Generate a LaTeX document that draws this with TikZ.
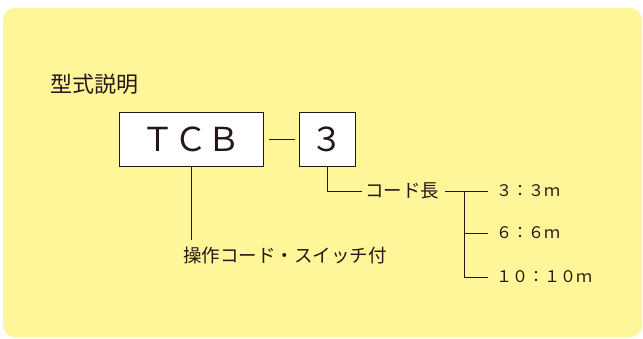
\documentclass[tikz,border=0pt]{standalone}
\usepackage{fontspec}
\newfontfamily\cjk{Noto Sans CJK JP}
\definecolor{panel}{HTML}{FFF599}
\definecolor{ink}{HTML}{231815}
\begin{document}
\begin{tikzpicture}[x=1pt,y=-1pt,
    every node/.style={font=\cjk, text=ink, inner sep=0pt},
    codebox/.style={draw=ink, fill=white, line width=.8pt, minimum height=54pt, anchor=north west},
    lead/.style={draw=ink, line width=.7pt}]
    \useasboundingbox (0,0) rectangle (643,338);
    \fill[panel, rounded corners=12pt] (3,8) rectangle (642,337);
    %% heading and code boxes
    \node[anchor=west, font=\cjk\fontsize{22}{22}\selectfont] (title) at (50,84) {型式説明};
    \node[codebox, minimum width=144pt, font=\cjk\fontsize{33}{33}\selectfont] (tcb) at (119,112) {ＴＣＢ};
    \node[codebox, minimum width=56pt, font=\cjk\fontsize{33}{33}\selectfont] (num) at (299,112) {３};
    \draw[lead, line width=1.8pt] ([xshift=5pt]tcb.east) -- ([xshift=-4pt]num.west);
    %% labels
    \node[anchor=west, font=\cjk\fontsize{18.5}{18.5}\selectfont] (op) at (183,255) {操作コード・スイッチ付};
    \node[anchor=west, font=\cjk\fontsize{18.5}{18.5}\selectfont] (len) at (365,191) {コード長};
    \node[anchor=west, font=\cjk\fontsize{16}{16}\selectfont] (o3) at (496,191) {３：３ｍ};
    \node[anchor=west, font=\cjk\fontsize{16}{16}\selectfont] (o6) at (496,233) {６：６ｍ};
    \node[anchor=west, font=\cjk\fontsize{16}{16}\selectfont] (o10) at (496,277) {１０：１０ｍ};
    \coordinate (fork) at (464,191);
    %% leader lines
    \draw[lead] (tcb.south) -- ([yshift=6pt]tcb.south |- op.north);
    \draw[lead] (num.south) |- ([xshift=-3pt]len.west);
    \draw[lead] ([xshift=6pt]len.east) -- ([xshift=-8pt]o3.west);
    \draw[lead] (fork) |- ([xshift=-8pt]o10.west);
    \draw[lead] (fork |- o6) -- ([xshift=-8pt]o6.west);
\end{tikzpicture}
\end{document}
